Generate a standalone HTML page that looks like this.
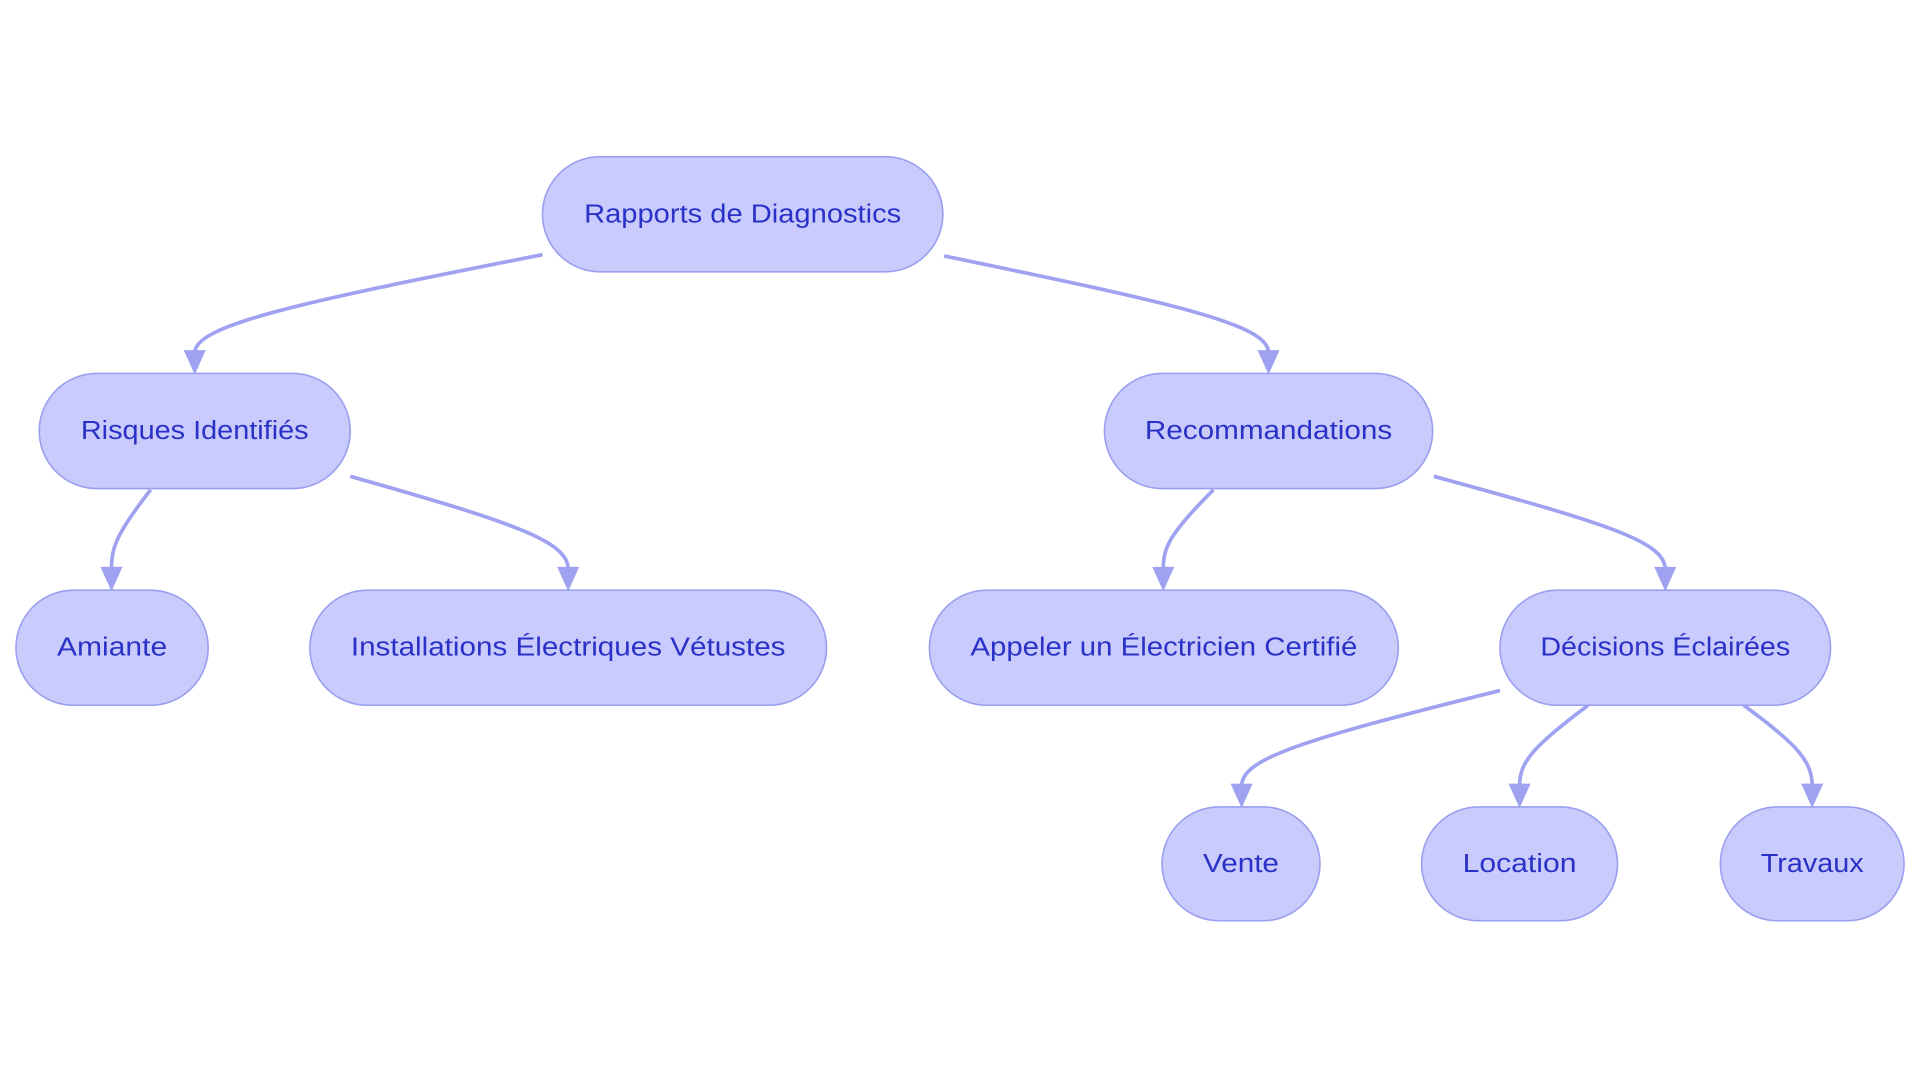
<!DOCTYPE html>
<html><head><meta charset="utf-8"><style>
html,body{margin:0;padding:0;background:#fff;width:1920px;height:1083px;overflow:hidden}
svg{display:block}
text{font-family:"Liberation Sans",sans-serif;font-size:21px;fill:#2a31c6;text-anchor:middle;dominant-baseline:central}
.n{fill:#c9cbfd;stroke:#9a9ff0;stroke-width:1.3}
.e{fill:none;stroke:#9ea2f1;stroke-width:3}
.a{fill:#9ea2f1}
</style></head><body>
<svg width="1920" height="1083" viewBox="0 0 1568 884.5" xmlns="http://www.w3.org/2000/svg">
<!-- edges -->
<path class="e" d="M443,208 C250,246 159,265 159,288"/>
<polygon class="a" points="150,286 168,286 159,306"/>
<path class="e" d="M771,209 C960,248 1036,265 1036,288"/>
<polygon class="a" points="1027,286 1045,286 1036,306"/>
<path class="e" d="M123,400 C95,436 91,447 91,465"/>
<polygon class="a" points="82,463 100,463 91,483"/>
<path class="e" d="M286,389 C420,427 464,442 464,465"/>
<polygon class="a" points="455,463 473,463 464,483"/>
<path class="e" d="M991,400 C955,436 950,447 950,465"/>
<polygon class="a" points="941,463 959,463 950,483"/>
<path class="e" d="M1171,389 C1310,427 1360,442 1360,465"/>
<polygon class="a" points="1351,463 1369,463 1360,483"/>
<path class="e" d="M1225,564 C1060,605 1014,620 1014,642"/>
<polygon class="a" points="1005,640 1023,640 1014,660"/>
<path class="e" d="M1297,576 C1252,610 1241,622 1241,642"/>
<polygon class="a" points="1232,640 1250,640 1241,660"/>
<path class="e" d="M1424,576 C1468,608 1480,622 1480,642"/>
<polygon class="a" points="1471,640 1489,640 1480,660"/>
<!-- nodes -->
<rect class="n" x="443" y="128" width="327" height="94" rx="47"/>
<text x="606.5" y="175" textLength="259" lengthAdjust="spacingAndGlyphs">Rapports de Diagnostics</text>
<rect class="n" x="32" y="305" width="254" height="94" rx="47"/>
<text x="159" y="352" textLength="186" lengthAdjust="spacingAndGlyphs">Risques Identifiés</text>
<rect class="n" x="902" y="305" width="268" height="94" rx="47"/>
<text x="1036" y="352" textLength="202" lengthAdjust="spacingAndGlyphs">Recommandations</text>
<rect class="n" x="13" y="482" width="157" height="94" rx="47"/>
<text x="91.5" y="529" textLength="90" lengthAdjust="spacingAndGlyphs">Amiante</text>
<rect class="n" x="253" y="482" width="422" height="94" rx="47"/>
<text x="464" y="529" textLength="355" lengthAdjust="spacingAndGlyphs">Installations Électriques Vétustes</text>
<rect class="n" x="759" y="482" width="383" height="94" rx="47"/>
<text x="950.5" y="529" textLength="316" lengthAdjust="spacingAndGlyphs">Appeler un Électricien Certifié</text>
<rect class="n" x="1225" y="482" width="270" height="94" rx="47"/>
<text x="1360" y="529" textLength="204" lengthAdjust="spacingAndGlyphs">Décisions Éclairées</text>
<rect class="n" x="949" y="659" width="129" height="93" rx="46.5"/>
<text x="1013.5" y="705.5" textLength="62" lengthAdjust="spacingAndGlyphs">Vente</text>
<rect class="n" x="1161" y="659" width="160" height="93" rx="46.5"/>
<text x="1241" y="705.5" textLength="93" lengthAdjust="spacingAndGlyphs">Location</text>
<rect class="n" x="1405" y="659" width="150" height="93" rx="46.5"/>
<text x="1480" y="705.5" textLength="84" lengthAdjust="spacingAndGlyphs">Travaux</text>
</svg>
</body></html>
